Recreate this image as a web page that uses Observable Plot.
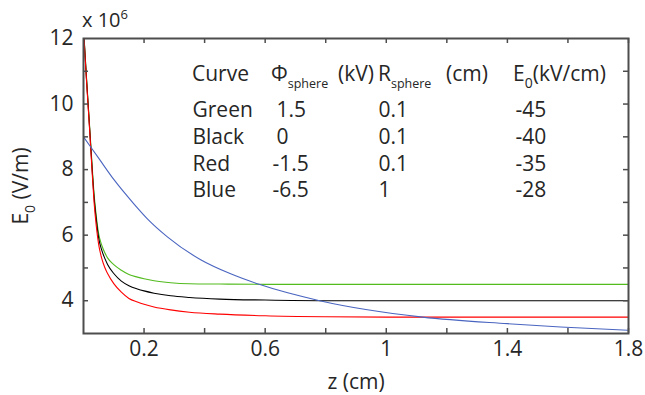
<!DOCTYPE html>
<html><head><meta charset="utf-8">
<script src="https://cdn.jsdelivr.net/npm/d3@7"></script>
<script src="https://cdn.jsdelivr.net/npm/@observablehq/plot@0.6"></script>
<style>
html,body{margin:0;padding:0;background:#fff;}
#chart{width:645px;height:395px;}
</style></head><body><div id="chart"></div>
<script>
// ---- data (E0 in units of 10^6 V/m, z in cm) ----
const zFast = [0, 0.01, 0.02, 0.029, 0.035, 0.042, 0.05, 0.06, 0.07, 0.08, 0.1, 0.125, 0.15, 0.178, 0.2, 0.233, 0.288, 0.35, 0.45, 0.6, 0.8, 1.0, 1.4, 1.8];
const greenE = [12.3, 10.8, 9.35, 8.05, 7.25, 6.6, 6.05, 5.7, 5.47, 5.3, 5.1, 4.93, 4.8, 4.72, 4.67, 4.61, 4.55, 4.52, 4.51, 4.5, 4.5, 4.5, 4.5, 4.5];
const blackE = [12.3, 10.75, 9.3, 7.95, 7.15, 6.5, 5.92, 5.55, 5.3, 5.1, 4.83, 4.6, 4.46, 4.36, 4.3, 4.23, 4.15, 4.1, 4.05, 4.02, 4.0, 4.0, 4.0, 4.0];
const redE = [12.25, 10.7, 9.25, 7.85, 7.0, 6.3, 5.72, 5.3, 5.02, 4.82, 4.52, 4.26, 4.07, 3.96, 3.89, 3.81, 3.72, 3.65, 3.59, 3.54, 3.51, 3.5, 3.5, 3.5];
const zBlue = [0, 0.05, 0.1, 0.167, 0.211, 0.277, 0.387, 0.486, 0.58, 0.78, 1.12, 1.4, 1.576, 1.8];
const blueE = [9.0, 8.35, 7.7, 6.95, 6.5, 5.95, 5.25, 4.82, 4.5, 4.0, 3.5, 3.3, 3.2, 3.1];

const xTickMarks = [0.2, 0.4, 0.6, 0.8, 1.0, 1.2, 1.4, 1.6, 1.8];
const xTickLabels = [0.2, 0.6, 1, 1.4, 1.8];
const yTickMarks = [4, 5, 6, 7, 8, 9, 10, 11];
const yTickLabels = [4, 6, 8, 10, 12];

const curveNames = ["Green", "Black", "Red", "Blue"];
const phiSphere = ["1.5", "0", "-1.5", "-6.5"];
const rSphere = ["0.1", "0.1", "0.1", "1"];
const e0Field = ["-45", "-40", "-35", "-28"];

// ---- layout ----
const W = 645, H = 395;
const mL = 83, mR = 17, mT = 38, mB = 62;
const frameW = W - mL - mR, frameH = H - mT - mB;
const xDomain = [0, 1.8], yDomain = [3, 12];
const px2x = px => xDomain[0] + (px - mL) / frameW * (xDomain[1] - xDomain[0]);
const py2y = py => yDomain[1] - (py - mT) / frameH * (yDomain[1] - yDomain[0]);
const FONT = "'Open Sans', sans-serif";
const TXT = "#262626";
const AX = "#4d4d4d";
const TFS = 21;   // table font size
const SFS = 12.5; // "sphere" subscript font size

const series = [
  ...zFast.map((z, i) => ({z, E: greenE[i], c: "green"})),
  ...zFast.map((z, i) => ({z, E: blackE[i], c: "black"})),
  ...zFast.map((z, i) => ({z, E: redE[i], c: "red"})),
  ...zBlue.map((z, i) => ({z, E: blueE[i], c: "blue"}))
];
const colors = {green: "#52bb1e", black: "#000000", red: "#ff0000", blue: "#4a65c0"};

const rows = curveNames.map((name, i) => ({i, name, phi: phiSphere[i], r: rSphere[i], e: e0Field[i]}));
const rowY = d => py2y(116.5 + d.i * 26.8);

const plot = Plot.plot({
  width: W, height: H,
  marginLeft: mL, marginRight: mR, marginTop: mT, marginBottom: mB,
  style: {fontFamily: FONT, fontSize: "20px", color: TXT, background: "#fff"},
  x: {domain: xDomain, label: null},
  y: {domain: yDomain, label: null},
  marks: [
    ...["green", "black", "red", "blue"].map(c =>
      Plot.line(series.filter(d => d.c === c), {x: "z", y: "E", stroke: colors[c], strokeWidth: 1.1, curve: "monotone-x", clip: true})
    ),
    // inward ticks on all four sides
    Plot.ruleX(xTickMarks, {x: d => d, insetTop: frameH - 5, stroke: AX, strokeWidth: 1.5}),
    Plot.ruleX(xTickMarks, {x: d => d, insetBottom: frameH - 5, stroke: AX, strokeWidth: 1.5}),
    Plot.ruleY(yTickMarks, {y: d => d, insetRight: frameW - 5, stroke: AX, strokeWidth: 1.5}),
    Plot.ruleY(yTickMarks, {y: d => d, insetLeft: frameW - 5, stroke: AX, strokeWidth: 1.5}),
    Plot.frame({stroke: AX, strokeWidth: 2}),
    Plot.axisX({ticks: xTickLabels, tickSize: 0, tickPadding: 8, tickFormat: d => String(d), fontSize: 21, fill: TXT, label: null}),
    Plot.axisY({ticks: yTickLabels, tickSize: 0, tickPadding: 10, tickFormat: d => String(d), fontSize: 21, fill: TXT, label: null}),
    // table body
    Plot.text(rows, {x: () => px2x(192), y: rowY, text: "name", textAnchor: "start", lineAnchor: "bottom", fontSize: TFS, fill: TXT}),
    Plot.text(rows, {x: d => px2x(272 + (d.phi.startsWith("-") ? 0 : 4)), y: rowY, text: "phi", textAnchor: "start", lineAnchor: "bottom", fontSize: TFS, fill: TXT}),
    Plot.text(rows, {x: () => px2x(378), y: rowY, text: "r", textAnchor: "start", lineAnchor: "bottom", fontSize: TFS, fill: TXT}),
    Plot.text(rows, {x: () => px2x(515), y: rowY, text: "e", textAnchor: "start", lineAnchor: "bottom", fontSize: TFS, fill: TXT}),
    // x label
    Plot.text(["z (cm)"], {frameAnchor: "bottom", dy: 55, text: d => d, lineAnchor: "bottom", fontSize: 21, fill: TXT})
  ]
});

// header row, y-label and multiplier with sub/superscripts
const svg = d3.select(plot);
const g = svg.append("g").attr("font-family", FONT).attr("fill", TXT).attr("font-size", TFS).attr("text-anchor", "start");
g.append("text").attr("x", 192).attr("y", 81).text("Curve");
const t1 = g.append("text").attr("x", 271).attr("y", 81).text("Φ");
t1.append("tspan").attr("font-size", SFS).attr("dy", 7).text("sphere");
g.append("text").attr("x", 374).attr("y", 81).attr("text-anchor", "end").text("(kV)");
const t2 = g.append("text").attr("x", 378).attr("y", 81).text("R");
t2.append("tspan").attr("font-size", SFS).attr("dy", 7).text("sphere");
g.append("text").attr("x", 488).attr("y", 81).attr("text-anchor", "end").text("(cm)");
const t3 = g.append("text").attr("x", 513).attr("y", 81).text("E");
t3.append("tspan").attr("font-size", 14).attr("dy", 7).text("0");
t3.append("tspan").attr("font-size", TFS).attr("dy", -7).text("(kV/cm)");

const yl = g.append("text").attr("font-size", 21).attr("text-anchor", "middle")
  .attr("transform", "translate(28,186) rotate(-90)").text("E");
yl.append("tspan").attr("font-size", 14).attr("dy", 7).text("0");
yl.append("tspan").attr("font-size", 21).attr("dy", -7).text(" (V/m)");

const mult = g.append("text").attr("x", 82).attr("y", 27).attr("font-size", 20).text("x 10");
mult.append("tspan").attr("font-size", 13).attr("dy", -8).text("6");

document.getElementById("chart").appendChild(plot);
</script>
</body></html>
